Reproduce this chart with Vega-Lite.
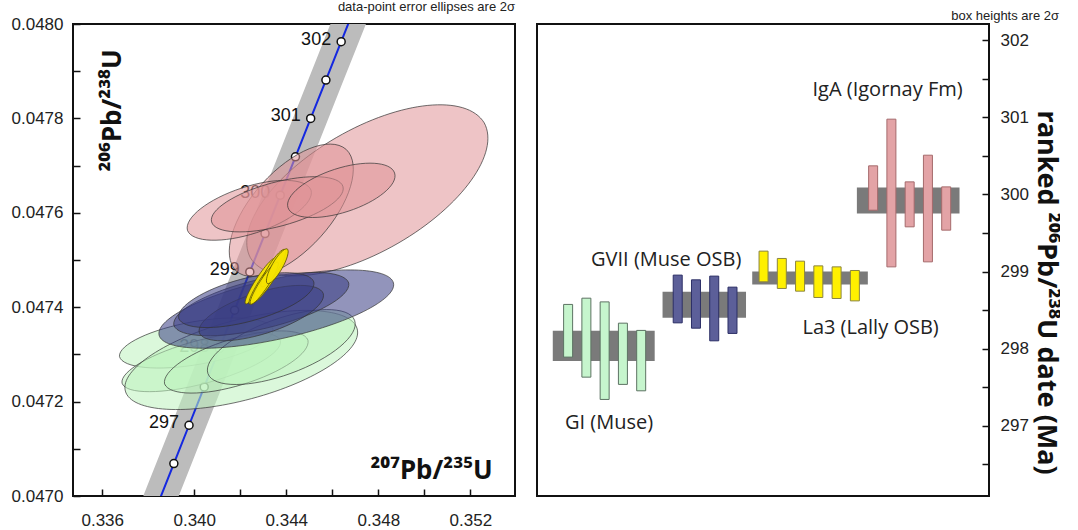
{
  "$schema": "https://vega.github.io/schema/vega-lite/v6.json",
  "padding": {"left": 10, "top": 0, "right": 0, "bottom": 0},
  "background": "white",
  "spacing": 20,
  "config": {
    "view": {"stroke": "#111", "strokeWidth": 2},
    "font": "Liberation Sans",
    "axis": {"labelFont": "Liberation Sans", "labelFontSize": 17, "labelColor": "#222", "tickColor": "#111", "tickWidth": 1.5, "domain": false, "grid": false, "titleFont": "Noto Sans", "titleFontWeight": "bold", "titleFontSize": 26, "titleColor": "#111"},
    "title": {"fontSize": 13, "fontWeight": "normal", "anchor": "end", "color": "#222", "font": "Liberation Sans", "offset": 1}
  },
  "datasets": {
    "concordia": [
      {"t": 296.0, "r75": 0.338454, "r68": 0.0469875},
      {"t": 296.5, "r75": 0.339113, "r68": 0.0470687},
      {"t": 297.0, "r75": 0.339773, "r68": 0.0471499},
      {"t": 297.5, "r75": 0.340433, "r68": 0.0472311},
      {"t": 298.0, "r75": 0.341093, "r68": 0.0473124},
      {"t": 298.5, "r75": 0.341753, "r68": 0.0473936},
      {"t": 299.0, "r75": 0.342414, "r68": 0.0474748},
      {"t": 299.5, "r75": 0.343075, "r68": 0.0475561},
      {"t": 300.0, "r75": 0.343736, "r68": 0.0476374},
      {"t": 300.5, "r75": 0.344398, "r68": 0.0477187},
      {"t": 301.0, "r75": 0.345060, "r68": 0.0478000},
      {"t": 301.5, "r75": 0.345722, "r68": 0.0478813},
      {"t": 302.0, "r75": 0.346385, "r68": 0.0479626},
      {"t": 302.5, "r75": 0.347048, "r68": 0.0480439}
    ],
    "ellipses": [
      {"id": "P1", "grp": "IgA", "r75": 0.347522, "r68": 0.0476476},
      {"id": "P2", "grp": "IgA", "r75": 0.344217, "r68": 0.0476053},
      {"id": "P3", "grp": "IgA", "r75": 0.342391, "r68": 0.0476053},
      {"id": "P4", "grp": "IgA", "r75": 0.343609, "r68": 0.0476180},
      {"id": "P5", "grp": "IgA", "r75": 0.346391, "r68": 0.0476476},
      {"id": "G1", "grp": "GI", "r75": 0.340087, "r68": 0.0473241},
      {"id": "G2", "grp": "GI", "r75": 0.340304, "r68": 0.0472839},
      {"id": "G3", "grp": "GI", "r75": 0.342043, "r68": 0.0472882},
      {"id": "G4", "grp": "GI", "r75": 0.341826, "r68": 0.0472839},
      {"id": "G5", "grp": "GI", "r75": 0.343783, "r68": 0.0473156},
      {"id": "N1", "grp": "GVII", "r75": 0.343565, "r68": 0.0473960},
      {"id": "N2", "grp": "GVII", "r75": 0.342913, "r68": 0.0474066},
      {"id": "N3", "grp": "GVII", "r75": 0.342913, "r68": 0.0473875},
      {"id": "N4", "grp": "GVII", "r75": 0.342261, "r68": 0.0474150},
      {"id": "Y1", "grp": "La3", "r75": 0.342870, "r68": 0.0474552},
      {"id": "Y2", "grp": "La3", "r75": 0.343130, "r68": 0.0474594},
      {"id": "Y3", "grp": "La3", "r75": 0.343304, "r68": 0.0474658},
      {"id": "Y4", "grp": "La3", "r75": 0.343435, "r68": 0.0474827},
      {"id": "Y5", "grp": "La3", "r75": 0.343043, "r68": 0.0474510},
      {"id": "Y6", "grp": "La3", "r75": 0.343609, "r68": 0.0474869}
    ],
    "dates": [
      {"grp": "GI", "rank": 1, "lo": 297.891, "hi": 298.574},
      {"grp": "GI", "rank": 2, "lo": 297.631, "hi": 298.655},
      {"grp": "GI", "rank": 3, "lo": 297.342, "hi": 298.607},
      {"grp": "GI", "rank": 4, "lo": 297.537, "hi": 298.331},
      {"grp": "GI", "rank": 5, "lo": 297.454, "hi": 298.237},
      {"grp": "GVII", "rank": 7, "lo": 298.335, "hi": 298.954},
      {"grp": "GVII", "rank": 8, "lo": 298.266, "hi": 298.893},
      {"grp": "GVII", "rank": 9, "lo": 298.102, "hi": 298.941},
      {"grp": "GVII", "rank": 10, "lo": 298.198, "hi": 298.798},
      {"grp": "La3", "rank": 11.7, "lo": 298.867, "hi": 299.265},
      {"grp": "La3", "rank": 12.7, "lo": 298.781, "hi": 299.17},
      {"grp": "La3", "rank": 13.7, "lo": 298.746, "hi": 299.135},
      {"grp": "La3", "rank": 14.7, "lo": 298.664, "hi": 299.074},
      {"grp": "La3", "rank": 15.7, "lo": 298.651, "hi": 299.061},
      {"grp": "La3", "rank": 16.7, "lo": 298.62, "hi": 299.014},
      {"grp": "IgA", "rank": 17.7, "lo": 299.796, "hi": 300.371},
      {"grp": "IgA", "rank": 18.7, "lo": 299.061, "hi": 300.976},
      {"grp": "IgA", "rank": 19.7, "lo": 299.58, "hi": 300.163},
      {"grp": "IgA", "rank": 20.7, "lo": 299.126, "hi": 300.509},
      {"grp": "IgA", "rank": 21.7, "lo": 299.537, "hi": 300.098}
    ],
    "means": [
      {"grp": "GI", "x0": 0.16, "x1": 5.74, "lo": 297.839, "hi": 298.232},
      {"grp": "GVII", "x0": 6.17, "x1": 10.74, "lo": 298.4, "hi": 298.737},
      {"grp": "La3", "x0": 11.08, "x1": 17.41, "lo": 298.832, "hi": 299.001},
      {"grp": "IgA", "x0": 16.81, "x1": 22.43, "lo": 299.754, "hi": 300.091}
    ],
    "glabels": [
      {"label": "IgA (Igornay Fm)", "rank": 18.49, "age": 301.35},
      {"label": "GVII (Muse OSB)", "rank": 6.37, "age": 299.148},
      {"label": "La3 (Lally OSB)", "rank": 17.56, "age": 298.27},
      {"label": "GI (Muse)", "rank": 3.24, "age": 297.035}
    ]
  },
  "hconcat": [
    {
      "width": 442,
      "height": 472,
      "title": {"text": "data-point error ellipses are 2σ"},
      "layer": [
        {
          "data": {"name": "concordia"},
          "mark": {"type": "line", "color": "#bcbcbc", "strokeWidth": 33, "strokeCap": "butt", "clip": true},
          "encoding": {
            "x": {"field": "r75", "type": "quantitative", "scale": {"domain": [0.33473, 0.35394], "nice": false, "zero": false},
              "axis": {"values": [0.336, 0.338, 0.34, 0.342, 0.344, 0.346, 0.348, 0.35, 0.352], "labelExpr": "round(datum.value*1000) % 4 == 0 ? format(datum.value, '.3f') : ''", "tickSize": -7, "labelPadding": 23, "title": "²⁰⁷Pb/²³⁵U", "titleX": 358, "titleY": -18, "titleAlign": "center", "titleBaseline": "alphabetic"}},
            "y": {"field": "r68", "type": "quantitative", "scale": {"domain": [0.047, 0.048], "nice": false, "zero": false},
              "axis": {"values": [0.047, 0.0471, 0.0472, 0.0473, 0.0474, 0.0475, 0.0476, 0.0477, 0.0478, 0.0479, 0.048], "labelExpr": "round(datum.value*10000) % 2 == 0 ? format(datum.value, '.4f') : ''", "tickSize": -7, "labelPadding": 17, "title": "²⁰⁶Pb/²³⁸U", "titleX": 39, "titleY": 86, "titleAngle": -90, "titleAlign": "center", "titleBaseline": "middle"}},
            "order": {"field": "t", "type": "quantitative"}
          }
        },
        {
          "data": {"name": "concordia"},
          "mark": {"type": "line", "color": "#1428e0", "strokeWidth": 2, "clip": true},
          "encoding": {
            "x": {"field": "r75", "type": "quantitative"},
            "y": {"field": "r68", "type": "quantitative"},
            "order": {"field": "t", "type": "quantitative"}
          }
        },
        {
          "data": {"name": "concordia"},
          "mark": {"type": "point", "shape": "circle", "filled": true, "color": "white", "stroke": "#111", "strokeWidth": 1.5, "size": 64, "opacity": 1, "clip": true},
          "encoding": {
            "x": {"field": "r75", "type": "quantitative"},
            "y": {"field": "r68", "type": "quantitative"}
          }
        },
        {
          "data": {"name": "concordia"},
          "transform": [{"filter": "datum.t % 1 == 0 && datum.t >= 297"}],
          "mark": {"type": "text", "align": "right", "baseline": "alphabetic", "dx": -10, "dy": 3, "fontSize": 18, "font": "Liberation Sans", "color": "#111", "clip": true},
          "encoding": {
            "x": {"field": "r75", "type": "quantitative"},
            "y": {"field": "r68", "type": "quantitative"},
            "text": {"field": "t", "type": "quantitative", "format": "d"}
          }
        },
        {
          "data": {"name": "ellipses"},
          "transform": [{"filter": "datum.grp != 'La3'"}],
          "mark": {"type": "point", "filled": true, "size": 4, "opacity": 1, "fillOpacity": 0.55, "stroke": "#333", "strokeWidth": 1, "strokeOpacity": 0.7, "clip": true},
          "encoding": {
            "x": {"field": "r75", "type": "quantitative"},
            "y": {"field": "r68", "type": "quantitative"},
            "color": {"field": "grp", "type": "nominal", "scale": {"domain": ["IgA", "GI", "GVII", "La3"], "range": ["#e09498", "#bdf2bd", "#383c84", "#f5e400"]}, "legend": null},
            "shape": {"field": "id", "type": "nominal", "legend": null, "scale": {
              "domain": ["P1", "P2", "P3", "P4", "P5", "G1", "G2", "G3", "G4", "G5", "N1", "N2", "N3", "N4", "Y1", "Y2", "Y3", "Y4", "Y5", "Y6"],
              "range": [
                "M -116.9 67.5 A 135 62 -30 0 1 116.9 -67.5 A 135 62 -30 0 1 -116.9 67.5 Z",
                "M -54.9 60.9 A 82 40 -48 0 1 54.9 -60.9 A 82 40 -48 0 1 -54.9 60.9 Z",
                "M -61.8 20.1 A 65 24 -18 0 1 61.8 -20.1 A 65 24 -18 0 1 -61.8 20.1 Z",
                "M -65.7 17.6 A 68 22 -15 0 1 65.7 -17.6 A 68 22 -15 0 1 -65.7 17.6 Z",
                "M -53.3 17.3 A 56 22 -18 0 1 53.3 -17.3 A 56 22 -18 0 1 -53.3 17.3 Z",
                "M -76.8 13.5 A 78 22 -10 0 1 76.8 -13.5 A 78 22 -10 0 1 -76.8 13.5 Z",
                "M -79.2 21.2 A 82 22 -15 0 1 79.2 -21.2 A 82 22 -15 0 1 -79.2 21.2 Z",
                "M -115.9 31.1 A 120 40 -15 0 1 115.9 -31.1 A 120 40 -15 0 1 -115.9 31.1 Z",
                "M -71.7 21.9 A 75 24 -17 0 1 71.7 -21.9 A 75 24 -17 0 1 -71.7 21.9 Z",
                "M -73.3 26.7 A 78 28 -20 0 1 73.3 -26.7 A 78 28 -20 0 1 -73.3 26.7 Z",
                "M -117.2 26 A 120 30 -12.5 0 1 117.2 -26 A 120 30 -12.5 0 1 -117.2 26 Z",
                "M -87.5 21 A 90 25 -13.5 0 1 87.5 -21 A 90 25 -13.5 0 1 -87.5 21 Z",
                "M -62 19.5 A 65 21 -17.5 0 1 62 -19.5 A 65 21 -17.5 0 1 -62 19.5 Z",
                "M -67.6 18.1 A 70 22 -15 0 1 67.6 -18.1 A 70 22 -15 0 1 -67.6 18.1 Z",
                "M -14.7 22.7 A 27 4.5 -57 0 1 14.7 -22.7 A 27 4.5 -57 0 1 -14.7 22.7 Z",
                "M -16.8 24.9 A 30 5 -56 0 1 16.8 -24.9 A 30 5 -56 0 1 -16.8 24.9 Z",
                "M -16.9 26 A 31 5 -57 0 1 16.9 -26 A 31 5 -57 0 1 -16.9 26 Z",
                "M -11.7 18.7 A 22 5 -58 0 1 11.7 -18.7 A 22 5 -58 0 1 -11.7 18.7 Z",
                "M -13.6 21 A 25 4.5 -57 0 1 13.6 -21 A 25 4.5 -57 0 1 -13.6 21 Z",
                "M -10 17.3 A 20 5.5 -60 0 1 10 -17.3 A 20 5.5 -60 0 1 -10 17.3 Z"
              ]}}
          }
        },
        {
          "data": {"name": "ellipses"},
          "transform": [{"filter": "datum.grp == 'La3'"}],
          "mark": {"type": "point", "filled": true, "size": 4, "opacity": 1, "fillOpacity": 0.95, "stroke": "#5a5200", "strokeWidth": 1, "strokeOpacity": 0.8, "clip": true},
          "encoding": {
            "x": {"field": "r75", "type": "quantitative"},
            "y": {"field": "r68", "type": "quantitative"},
            "color": {"field": "grp", "type": "nominal", "legend": null},
            "shape": {"field": "id", "type": "nominal", "legend": null}
          }
        }
      ]
    },
    {
      "width": 452,
      "height": 472,
      "title": {"text": "box heights are 2σ"},
      "layer": [
        {
          "data": {"name": "means"},
          "mark": {"type": "rect", "color": "#7a7a7a"},
          "encoding": {
            "x": {"field": "x0", "type": "quantitative", "scale": {"domain": [-0.43, 23.77], "nice": false, "zero": false}, "axis": null},
            "x2": {"field": "x1"},
            "y": {"field": "lo", "type": "quantitative", "scale": {"domain": [296.09, 302.21], "nice": false, "zero": false},
              "axis": {"orient": "right", "values": [296.5, 297, 297.5, 298, 298.5, 299, 299.5, 300, 300.5, 301, 301.5, 302], "labelExpr": "round(datum.value*2) % 2 == 0 ? format(datum.value, 'd') : ''", "tickSize": -7, "labelPadding": 18, "title": "ranked ²⁰⁶Pb/²³⁸U date (Ma)", "titleFontSize": 27, "titleAngle": 90, "titleX": 56, "titleY": 268, "titleAlign": "center", "titleBaseline": "middle"}},
            "y2": {"field": "hi"}
          }
        },
        {
          "data": {"name": "dates"},
          "mark": {"type": "bar", "width": 9, "strokeWidth": 1},
          "encoding": {
            "x": {"field": "rank", "type": "quantitative"},
            "y": {"field": "lo", "type": "quantitative"},
            "y2": {"field": "hi"},
            "fill": {"field": "grp", "type": "nominal", "scale": {"domain": ["GI", "GVII", "La3", "IgA"], "range": ["#c6f5cd", "#5c5f99", "#fff000", "#e3a3a6"]}, "legend": null},
            "stroke": {"field": "grp", "type": "nominal", "scale": {"domain": ["GI", "GVII", "La3", "IgA"], "range": ["#5d7363", "#2c2f66", "#8a8440", "#a56a6c"]}, "legend": null}
          }
        },
        {
          "data": {"name": "glabels"},
          "mark": {"type": "text", "font": "Open Sans", "fontSize": 20, "color": "#222", "align": "center", "baseline": "middle"},
          "encoding": {
            "x": {"field": "rank", "type": "quantitative"},
            "y": {"field": "age", "type": "quantitative"},
            "text": {"field": "label", "type": "nominal"}
          }
        }
      ]
    }
  ],
  "resolve": {"scale": {"x": "independent", "y": "independent", "color": "independent", "shape": "independent", "fill": "independent", "stroke": "independent"}}
}
